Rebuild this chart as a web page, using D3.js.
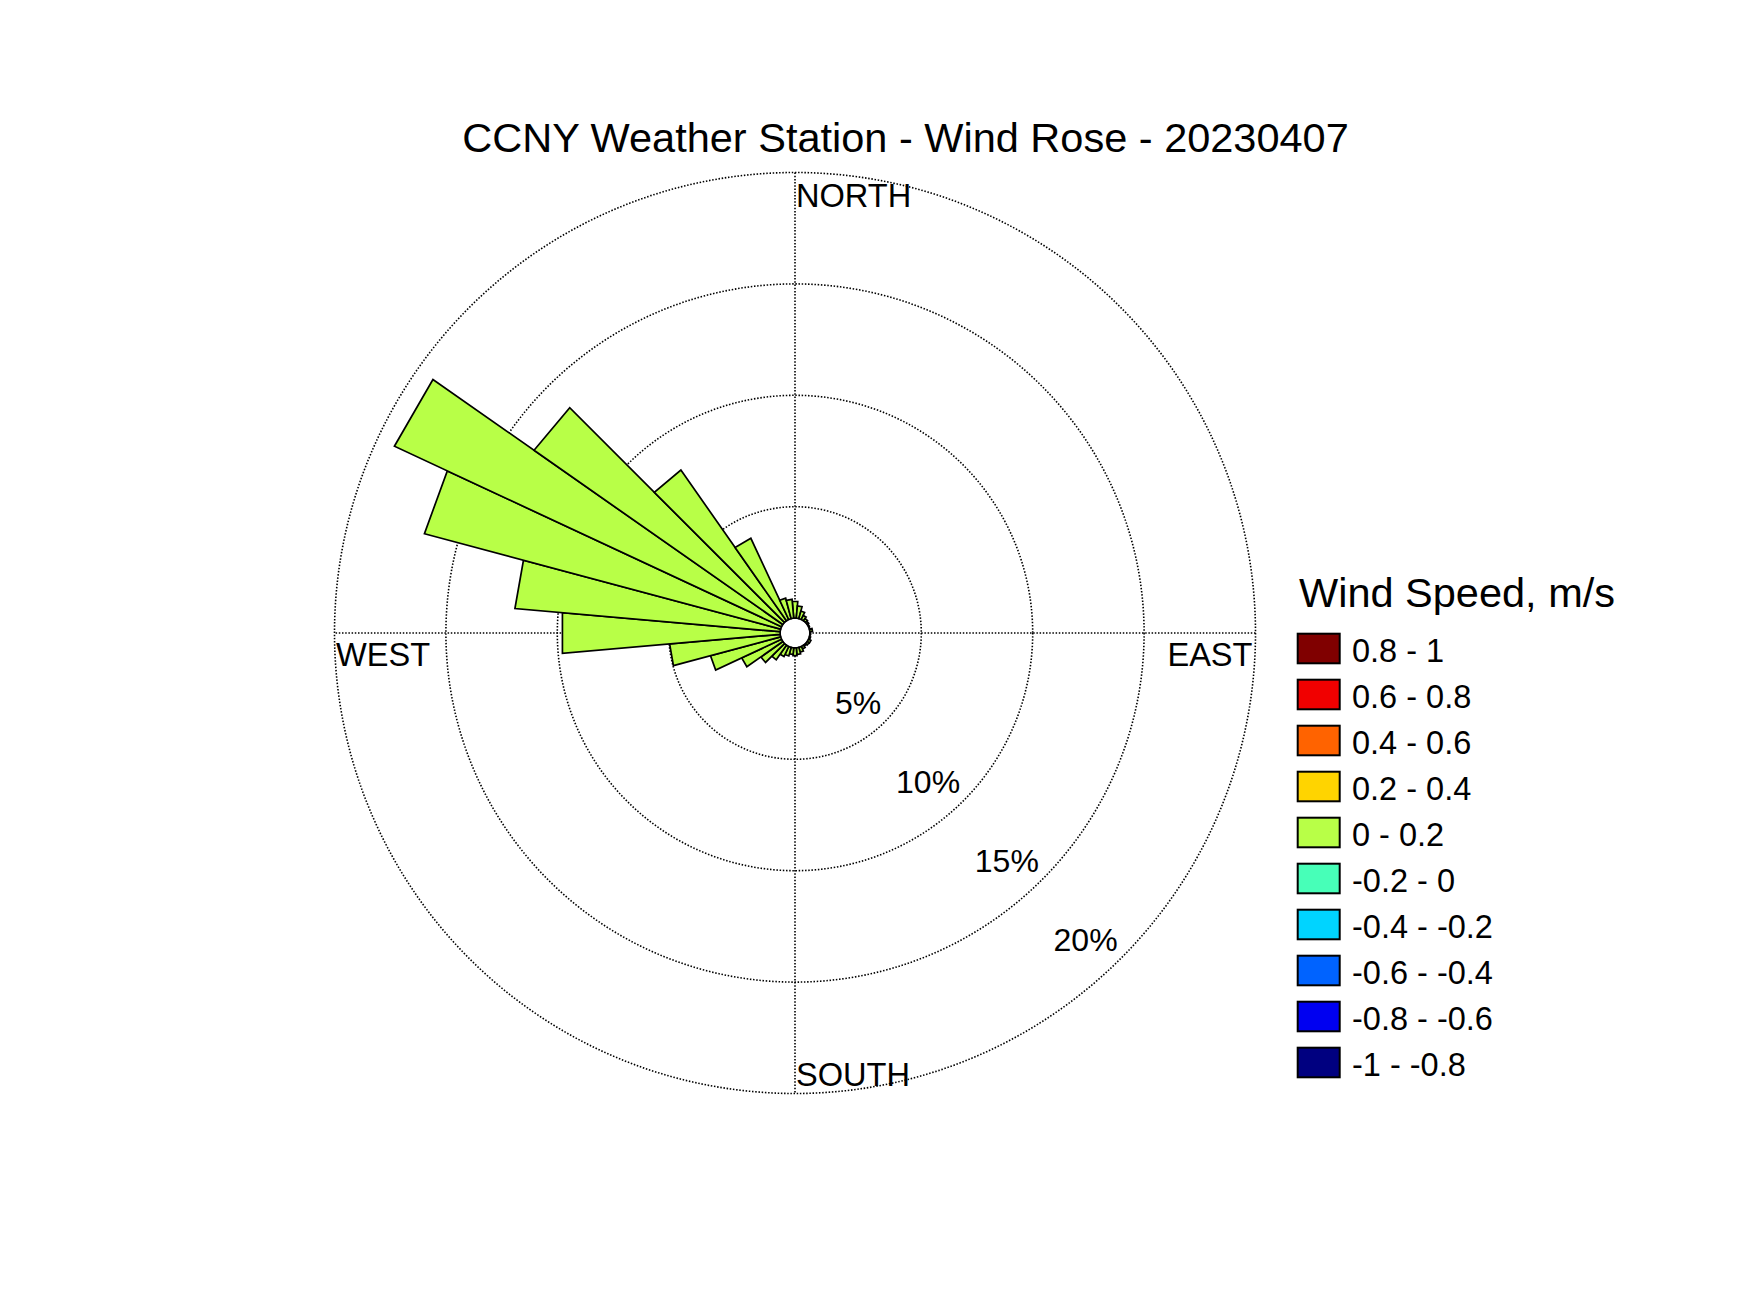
<!DOCTYPE html>
<html>
<head>
<meta charset="utf-8">
<script src="https://cdn.jsdelivr.net/npm/d3@7"></script>
<style>
  html, body { margin: 0; padding: 0; background: #fff; }
  svg { display: block; }
  text { font-family: "Liberation Sans", Arial, Helvetica, sans-serif; fill: #000; }
</style>
</head>
<body>
<svg id="chart" width="1750" height="1313"></svg>
<script>
// ---------------- data ----------------
const chartTitle = "CCNY Weather Station - Wind Rose - 20230407";
const legendTitle = "Wind Speed, m/s";
// direction bin centres (degrees, compass, clockwise from north)
const directions = [0, 10, 20, 30, 40, 50, 60, 70, 80, 90, 100, 110,
                    120, 130, 140, 150, 160, 170, 180, 190, 200, 210, 220, 230,
                    240, 250, 260, 270, 280, 290, 300, 310, 320, 330, 340, 350];
// frequency (%) of the "0 - 0.2" speed class per direction
const freqSpeed0to02 = [0.75, 0.55, 0.35, 0.2, 0.12, 0.08, 0.04, 0.02, 0.12, 0.03, 0.02, 0.05,
                        0.12, 0.1, 0.05, 0.12, 0.22, 0.3, 0.35, 0.3, 0.4, 0.5, 0.8, 1.2,
                        1.97, 3.26, 4.98, 9.81, 11.95, 16.55, 19.17, 13.63, 8.26, 4.02, 0.95, 0.85];
// speed classes (legend order, top to bottom)
const speedClasses = ["0.8 - 1", "0.6 - 0.8", "0.4 - 0.6", "0.2 - 0.4", "0 - 0.2",
                      "-0.2 - 0", "-0.4 - -0.2", "-0.6 - -0.4", "-0.8 - -0.6", "-1 - -0.8"];
const classColors = ["#800000", "#f10000", "#ff6300", "#ffd400", "#b8ff47",
                     "#47ffb8", "#00d4ff", "#0063ff", "#0000f1", "#000080"];
const ringTicks = [5, 10, 15, 20];
const ringLabels = ["5%", "10%", "15%", "20%"];
const compassLabels = ["NORTH", "EAST", "SOUTH", "WEST"];

// ---------------- layout ----------------
const svg = d3.select("#chart");
const cx = 795, cy = 633;
const r0 = 14.9, R = 460.5;
const rScale = d3.scaleLinear().domain([0, 20]).range([r0, R]);
const angScale = d3.scaleLinear().domain([0, 360]).range([0, 2 * Math.PI]);
const binWidth = 10;
const dotted = { stroke: "#000", "stroke-width": 1.6, "stroke-dasharray": "1.5,1.7" };

const pt = (deg, r) => {
  const a = angScale(deg);
  return [cx + r * Math.sin(a), cy - r * Math.cos(a)];
};

// title
svg.append("text")
  .attr("x", 905.5).attr("y", 152)
  .attr("text-anchor", "middle")
  .style("font-size", "41.5px")
  .text(chartTitle);

const g = svg.append("g");

// rings
g.selectAll("circle.ring").data(ringTicks).join("circle")
  .attr("class", "ring")
  .attr("cx", cx).attr("cy", cy)
  .attr("r", d => rScale(d))
  .attr("fill", "none")
  .attr("stroke", dotted.stroke)
  .attr("stroke-width", dotted["stroke-width"])
  .attr("stroke-dasharray", dotted["stroke-dasharray"]);

// axes lines N-S, E-W
[[0, 180], [90, 270]].forEach(([a, b]) => {
  const p1 = pt(a, R), p2 = pt(b, R);
  g.append("line")
    .attr("x1", p1[0]).attr("y1", p1[1])
    .attr("x2", p2[0]).attr("y2", p2[1])
    .attr("stroke", dotted.stroke)
    .attr("stroke-width", dotted["stroke-width"])
    .attr("stroke-dasharray", dotted["stroke-dasharray"]);
});

// inner white hole
g.append("circle").attr("cx", cx).attr("cy", cy).attr("r", r0).attr("fill", "#fff");

// stacked bars (only the "0 - 0.2" class carries data)
const classIndex = speedClasses.indexOf("0 - 0.2");
const line = d3.line();
const bars = directions.map((d, i) => ({ dir: d, lo: 0, hi: freqSpeed0to02[i], color: classColors[classIndex] }));
g.selectAll("path.bar").data(bars.filter(b => b.hi > 0)).join("path")
  .attr("class", "bar")
  .attr("d", b => {
    const a0 = b.dir - binWidth / 2, a1 = b.dir + binWidth / 2;
    const ri = rScale(b.lo), ro = rScale(b.hi);
    return line([pt(a0, ri), pt(a0, ro), pt(a1, ro), pt(a1, ri)]) + "Z";
  })
  .attr("fill", b => b.color)
  .attr("stroke", "#000")
  .attr("stroke-width", 1.7)
  .attr("stroke-linejoin", "miter");

// ring labels (right-anchored, along the 135° line)
g.selectAll("text.rlab").data(ringTicks).join("text")
  .attr("class", "rlab")
  .attr("x", d => cx + rScale(d) * Math.SQRT1_2 - 3)
  .attr("y", d => cy + rScale(d) * Math.SQRT1_2 - 8)
  .attr("text-anchor", "end")
  .style("font-size", "32px")
  .text((d, i) => ringLabels[i]);

// compass labels
const cf = "32.6px";
g.append("text").attr("x", cx + 1).attr("y", cy - R + 34).style("font-size", cf).text(compassLabels[0]);
g.append("text").attr("x", cx + R - 3).attr("y", cy + 33).attr("text-anchor", "end").style("font-size", cf).text(compassLabels[1]);
g.append("text").attr("x", cx + 1).attr("y", cy + R - 8).style("font-size", cf).text(compassLabels[2]);
g.append("text").attr("x", cx - R + 1.5).attr("y", cy + 33).style("font-size", cf).text(compassLabels[3]);

// legend
const lg = svg.append("g");
lg.append("text").attr("x", 1299).attr("y", 607).style("font-size", "41.5px").text(legendTitle);
const legY = d3.scaleLinear().domain([0, 1]).range([632.7, 678.7]);
const items = lg.selectAll("g.item").data(speedClasses).join("g").attr("class", "item");
items.append("rect")
  .attr("x", 1297.7).attr("y", (d, i) => legY(i) + 1)
  .attr("width", 42).attr("height", 29.6)
  .attr("fill", (d, i) => classColors[i])
  .attr("stroke", "#000").attr("stroke-width", 2);
items.append("text")
  .attr("x", 1352).attr("y", (d, i) => legY(i) + 29)
  .style("font-size", "32.5px")
  .text(d => d);
</script>
</body>
</html>
